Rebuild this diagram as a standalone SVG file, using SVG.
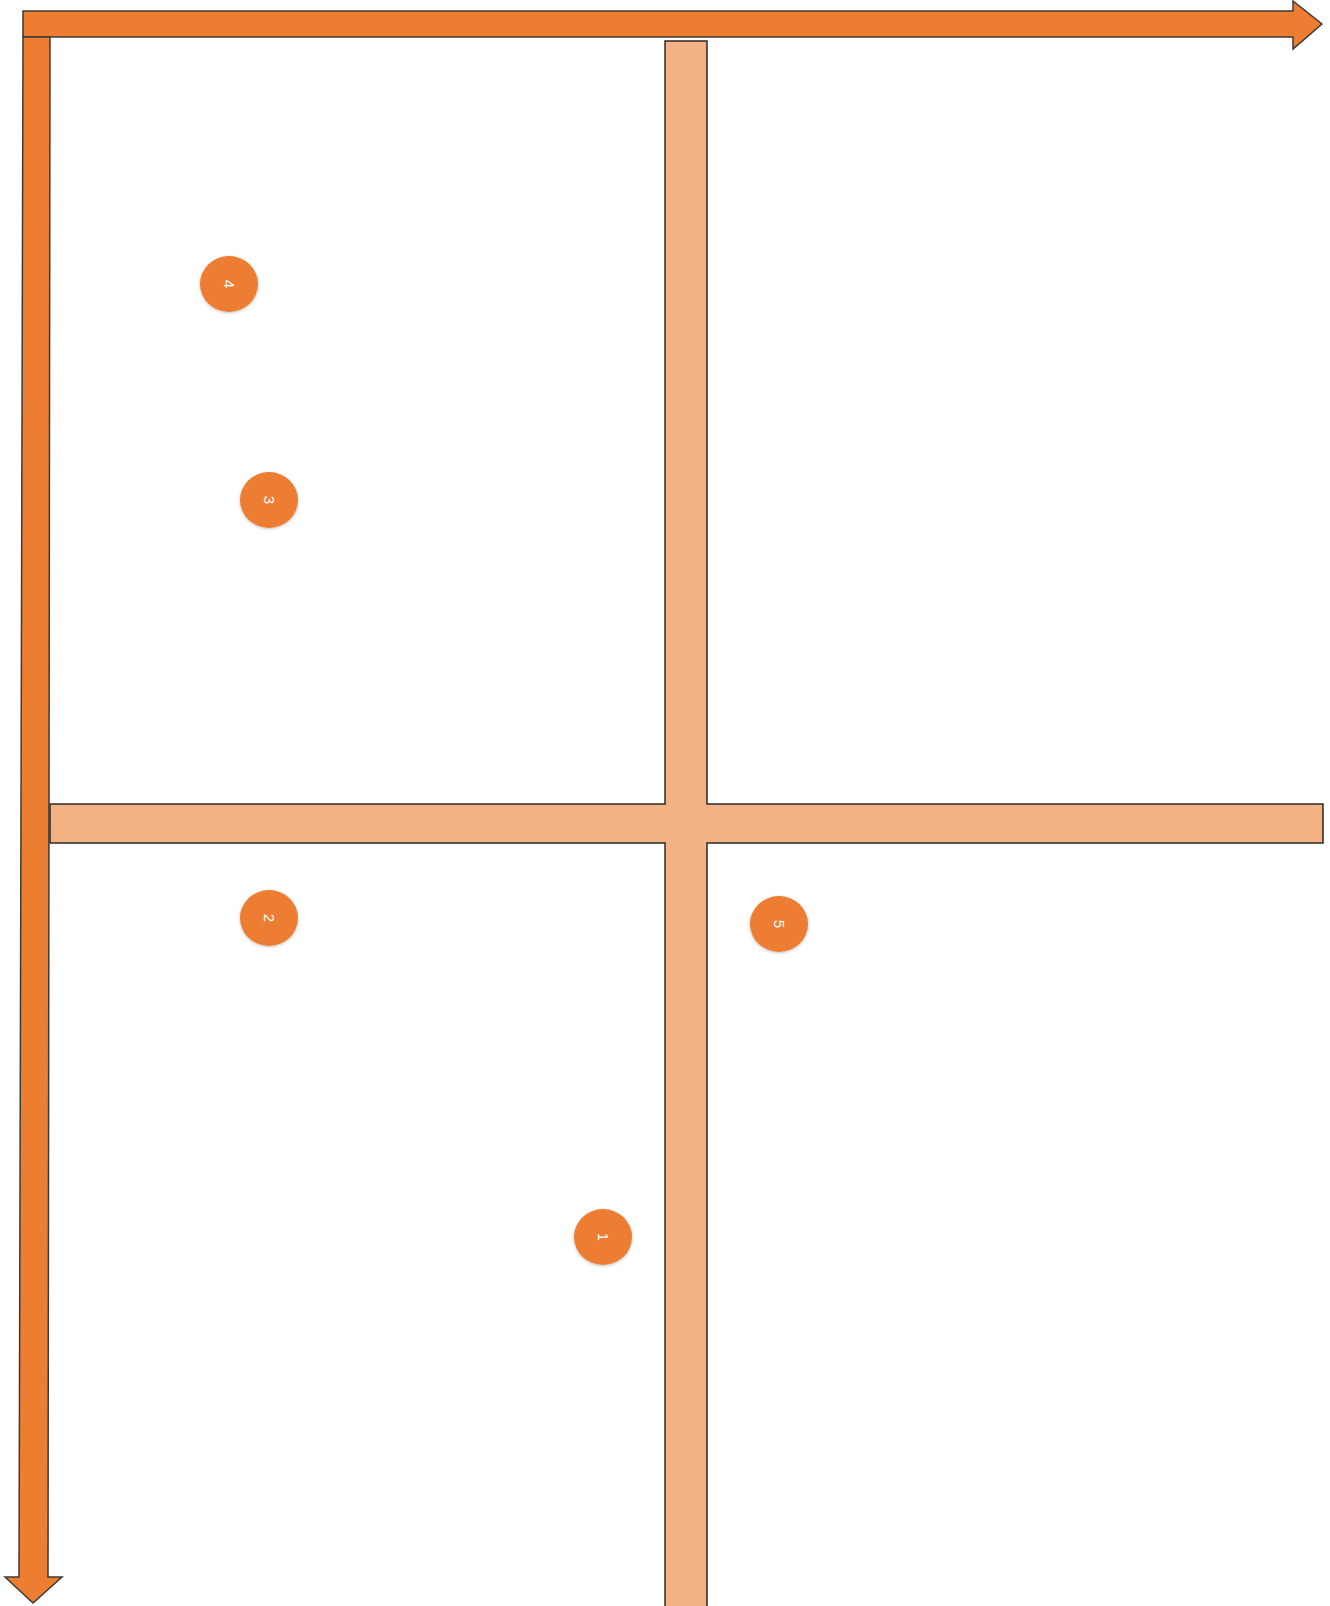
<svg xmlns="http://www.w3.org/2000/svg" width="1330" height="1606" viewBox="0 0 1330 1606">
<style>
.arrow{fill:#ED7D31;stroke:#3a3a3a;stroke-width:1.5;stroke-linejoin:miter}
.bar{fill:#F4B183;stroke:#2a2a2a;stroke-width:1.5}
.dot{fill:#ED7D31;filter:url(#sh)}
.num{fill:#ffffff;font-family:"Liberation Sans",Arial,sans-serif;font-size:15px;text-anchor:middle;dominant-baseline:central}
</style>
<defs>
<filter id="sh" x="-30%" y="-30%" width="160%" height="160%">
<feDropShadow dx="0" dy="1" stdDeviation="1.5" flood-color="#000" flood-opacity="0.25"/>
</filter>
</defs>
<rect width="1330" height="1606" fill="#ffffff"/>
<g id="cross">
<path class="bar" d="M665,41 H707 V804 H1323 V843 H707 V1611 H665 V843 H50 V804 H665 Z"/>
</g>
<g id="axes">
<path id="x-axis" class="arrow" d="M23,11 H1293 V1 L1322,24 L1293,49 V37 H23 Z"/>
<path id="y-axis" class="arrow" d="M23,37 H50 L48,1577 H62 L33,1603 L5,1577 H19 Z"/>
</g>
<g id="n4"><ellipse class="dot" cx="229" cy="284" rx="29" ry="28"/><text class="num" transform="translate(229,284) rotate(90)">4</text></g>
<g id="n3"><ellipse class="dot" cx="269" cy="500" rx="29" ry="28"/><text class="num" transform="translate(269,500) rotate(90)">3</text></g>
<g id="n2"><ellipse class="dot" cx="269" cy="918" rx="29" ry="28"/><text class="num" transform="translate(269,918) rotate(90)">2</text></g>
<g id="n5"><ellipse class="dot" cx="779" cy="924" rx="29" ry="28"/><text class="num" transform="translate(779,924) rotate(90)">5</text></g>
<g id="n1"><ellipse class="dot" cx="603" cy="1237" rx="29" ry="28"/><text class="num" transform="translate(603,1237) rotate(90)">1</text></g>
</svg>
